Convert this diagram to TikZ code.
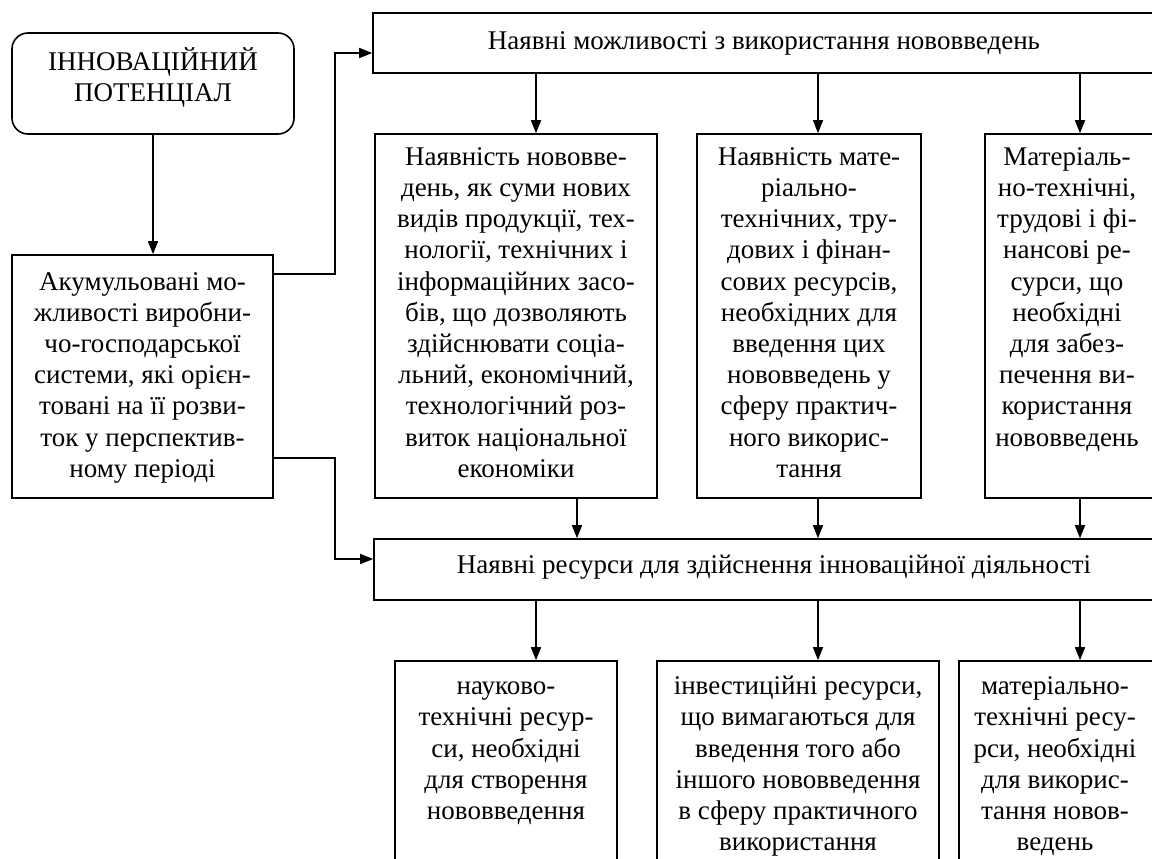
\documentclass[tikz,border=0pt]{standalone}
\usepackage{fontspec}
\setmainfont{Liberation Serif}
\usetikzlibrary{arrows.meta}
\begin{document}
\begin{tikzpicture}[x=1pt,y=-1pt,line width=1.6pt,
  box/.style={draw,rectangle,inner sep=0pt},
  txt/.style={font=\fontsize{27}{31.2}\selectfont,align=center,inner sep=0pt},
  arr/.style={-{Triangle[length=13pt,width=10pt]}}]
\useasboundingbox (0,0) rectangle (1152,859);
\clip (0,0) rectangle (1152,859);
% boxes
\node[box,rounded corners=16pt,minimum width=282pt,minimum height=101pt] (pot) at (153,83.5) {};
\node[box,minimum width=261pt,minimum height=243pt] (akum) at (142.5,376.5) {};
\node[box,minimum width=782pt,minimum height=60pt] (top) at (764,43) {};
\node[box,minimum width=282pt,minimum height=364pt] (mid1) at (516,316) {};
\node[box,minimum width=224pt,minimum height=364pt] (mid2) at (809,316) {};
\node[box,minimum width=173pt,minimum height=364pt] (mid3) at (1071.5,316) {};
\node[box,minimum width=800pt,minimum height=61pt] (low) at (774,569.5) {};
\node[box,minimum width=222pt,minimum height=239pt] (bot1) at (506,780.5) {};
\node[box,minimum width=282pt,minimum height=239pt] (bot2) at (798,780.5) {};
\node[box,minimum width=197pt,minimum height=239pt] (bot3) at (1057.5,780.5) {};
% texts
\node[txt,anchor=north] (tpot) at (153,47) {\strut ІННОВАЦІЙНИЙ\\ПОТЕНЦІАЛ};
\node[txt,anchor=north] (takum) at (142.5,267.5) {\strut Акумульовані мо-\\жливості виробни-\\чо-господарської\\системи, які орієн-\\товані на її розви-\\ток у перспектив-\\ному періоді};
\node[txt,anchor=base] (ttop) at (764,50) {Наявні можливості з використання нововведень};
\node[txt,anchor=north] (tmid1) at (516,142.7) {\strut Наявність нововве-\\день, як суми нових\\видів продукції, тех-\\нології, технічних і\\інформаційних засо-\\бів, що дозволяють\\здійснювати соціа-\\льний, економічний,\\технологічний роз-\\виток національної\\економіки};
\node[txt,anchor=north] (tmid2) at (809,142.7) {\strut Наявність мате-\\ріально-\\технічних, тру-\\дових і фінан-\\сових ресурсів,\\необхідних для\\введення цих\\нововведень у\\сферу практич-\\ного викорис-\\тання};
\node[txt,anchor=north] (tmid3) at (1067,142.7) {\strut Матеріаль-\\но-технічні,\\трудові і фі-\\нансові ре-\\сурси, що\\необхідні\\для забез-\\печення ви-\\користання\\нововведень};
\node[txt,anchor=base] (tlow) at (774,573) {Наявні ресурси для здійснення інноваційної діяльності};
\node[txt,anchor=north] (tbot1) at (506,672) {\strut науково-\\технічні ресур-\\си, необхідні\\для створення\\нововведення};
\node[txt,anchor=north] (tbot2) at (798,672) {\strut інвестиційні ресурси,\\що вимагаються для\\введення того або\\іншого нововведення\\в сферу практичного\\використання};
\node[txt,anchor=north] (tbot3) at (1055,672) {\strut матеріально-\\технічні ресу-\\рси, необхідні\\для викорис-\\тання новов-\\ведень};
% connectors
\draw[arr] (pot.south) -- (pot.south |- akum.north);
\draw[arr] ([yshift=102.5pt]akum.east) -- ++(61,0) |- ([yshift=-10pt]top.west);
\draw[arr] ([yshift=-81.5pt]akum.east) -- ++(61,0) |- ([yshift=10.5pt]low.west);
\draw[arr] ([xshift=20pt]mid1.north |- top.south) -- ([xshift=20pt]mid1.north);
\draw[arr] ([xshift=9pt]mid2.north |- top.south) -- ([xshift=9pt]mid2.north);
\draw[arr] ([xshift=8.5pt]mid3.north |- top.south) -- ([xshift=8.5pt]mid3.north);
\draw[arr] ([xshift=61pt]mid1.south) -- ([xshift=61pt]mid1.south |- low.north);
\draw[arr] ([xshift=9pt]mid2.south) -- ([xshift=9pt]mid2.south |- low.north);
\draw[arr] ([xshift=8.5pt]mid3.south) -- ([xshift=8.5pt]mid3.south |- low.north);
\draw[arr] ([xshift=30pt]bot1.north |- low.south) -- ([xshift=30pt]bot1.north);
\draw[arr] ([xshift=20pt]bot2.north |- low.south) -- ([xshift=20pt]bot2.north);
\draw[arr] ([xshift=22.5pt]bot3.north |- low.south) -- ([xshift=22.5pt]bot3.north);
\end{tikzpicture}
\end{document}
